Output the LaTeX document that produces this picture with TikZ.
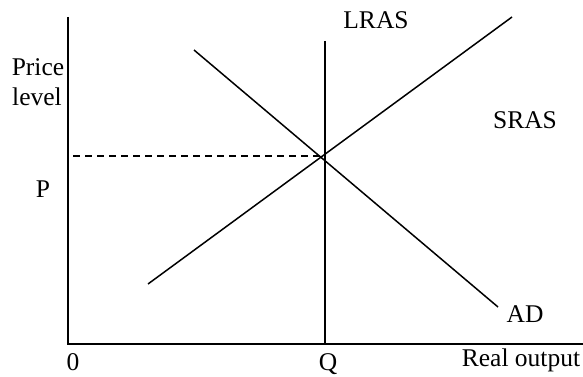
\documentclass[tikz,border=0pt]{standalone}
\usepackage{fontspec}
\setmainfont{Liberation Serif}
\begin{document}
\begin{tikzpicture}[x=1pt,y=-1pt,
  curve/.style={line width=1.5pt,black},
  lbl/.style={inner sep=0pt,font=\fontsize{25.5}{29}\selectfont}]
\useasboundingbox (0,0) rectangle (583,377);
\coordinate (O) at (68,344);
\coordinate (ytop) at (68,17);
\coordinate (xend) at (583,344);
\coordinate (lrasT) at (325,41);
\coordinate (lrasB) at (325,344);
\coordinate (srasA) at (148,284);
\coordinate (srasB) at (512,17);
\coordinate (adA) at (194,50);
\coordinate (adB) at (498,307);
\coordinate (dashA) at (73,156);
\coordinate (E) at (322,156);
\draw[curve] (ytop) -- (O) -- (xend);
\draw[curve] (lrasT) -- (lrasB);
\draw[curve] (srasA) -- (srasB);
\draw[curve] (adA) -- (adB);
\draw[line width=1.3pt,dash pattern=on 7pt off 5pt] (dashA) -- (E);
\node[lbl] (price) at (38,67) {Price};
\node[lbl] (level) at (37,97) {level};
\node[lbl] (p) at (43,189) {P};
\node[lbl] (lras) at (376,20) {LRAS};
\node[lbl] (sras) at (525,120) {SRAS};
\node[lbl] (ad) at (525,314) {AD};
\node[lbl] (zero) at (73,362) {0};
\node[lbl] (q) at (328,364) {Q};
\node[lbl] (real) at (521,360) {Real output};
\end{tikzpicture}
\end{document}
